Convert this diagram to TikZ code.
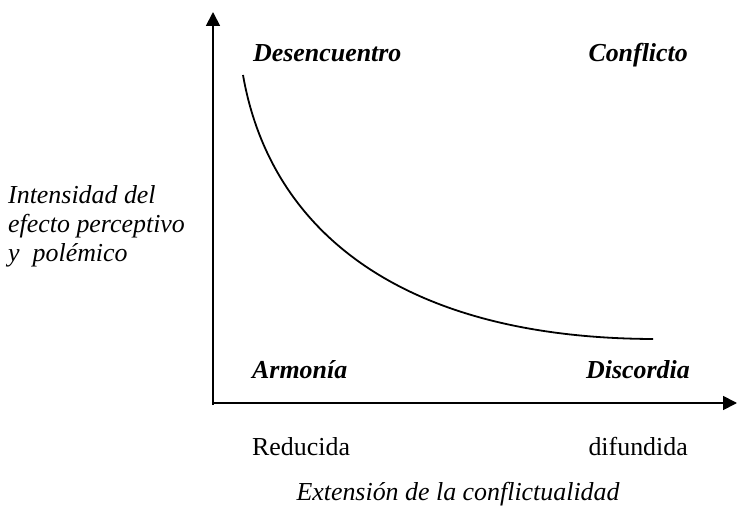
\documentclass[tikz,border=0pt]{standalone}
\usepackage{fontspec}
\setmainfont{Liberation Serif}
\usetikzlibrary{arrows.meta}

\tikzstyle{eje} = [line width=1.8bp,-{Triangle[length=14bp,width=14bp]}]
\tikzstyle{curva} = [line width=1.8bp]
\tikzstyle{cuadrante} = [font=\fontsize{26}{30}\selectfont\bfseries\itshape,inner sep=0pt]
\tikzstyle{rotulo} = [font=\fontsize{26}{29}\selectfont\itshape,inner sep=0pt,align=left]
\tikzstyle{extremo} = [font=\fontsize{26}{30}\selectfont,inner sep=0pt]

\begin{document}
\begin{tikzpicture}[x=1bp,y=-1bp]
	\useasboundingbox (0,0) rectangle (737,515);
	% ejes
	\coordinate (origen) at (213,405);
	\coordinate (tope) at (213,12);
	\coordinate (esquina) at (212,403);
	\coordinate (fin) at (737,403);
	\draw [eje] (origen) -- (tope);
	\draw [eje] (esquina) -- (fin);
	% cuadrantes
	\node (desencuentro) [cuadrante,anchor=base west] at (253,62) {Desencuentro};
	\node (conflicto) [cuadrante,anchor=base east] at (688,62) {Conflicto};
	\node (armonia) [cuadrante,anchor=base west] at (252,378) {Armonía};
	\node (discordia) [cuadrante,anchor=base east] at (690,378) {Discordia};
	% curva
	\coordinate (inicio) at (243,75);
	\coordinate (final) at (653,339);
	\draw [curva] (inicio) .. controls (270,230) and (400,338) .. (final);
	% rotulos de los ejes
	\node (intensidad) [rotulo,anchor=west] at (8,226) {Intensidad del\\efecto perceptivo\\y\ \ polémico};
	\node (reducida) [extremo,anchor=base west] at (252,455) {Reducida};
	\node (difundida) [extremo,anchor=base east] at (688,455) {difundida};
	\node (extension) [rotulo,anchor=base] at (458,500) {Extensión de la conflictualidad};
\end{tikzpicture}
\end{document}
